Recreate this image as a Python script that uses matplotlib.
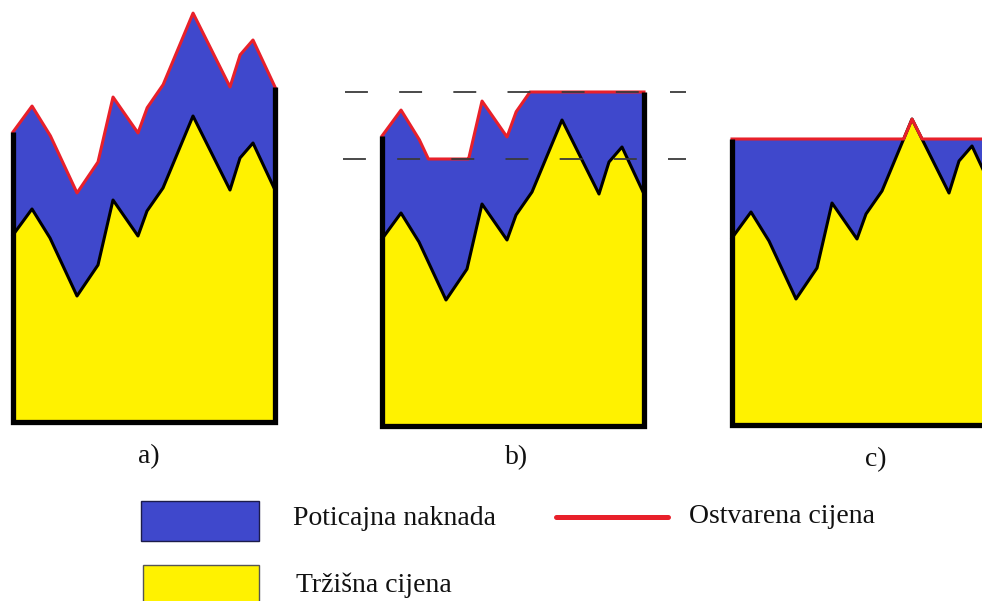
import matplotlib
matplotlib.use('Agg')
import matplotlib.pyplot as plt
import numpy as np
from matplotlib.patches import Rectangle
from matplotlib.lines import Line2D

plt.rcParams['lines.scale_dashes'] = False

# ---------------- data ----------------
time_pts = [0, 19, 37, 64, 85, 100, 125, 134, 150, 180, 217, 227, 240, 262]
market_price = [187, 213, 184, 126, 157, 222, 186, 211, 234, 306, 232, 264, 279, 232]
subsidy = 103          # premium added on top of market price (panel a, b)
cap_price = 334        # upper limit (panel b)
floor_price = 267      # lower limit (panel b)
fixed_price = 286      # guaranteed price (panel c)
panel_labels = ['a)', 'b)', 'c)']
legend_labels = ['Poticajna naknada', 'Tržišna cijena', 'Ostvarena cijena']

BLUE = '#3F48CC'
YELLOW = '#FFF200'
RED = '#E8202A'
FONT = 'Liberation Serif'

W, H = 982, 601
fig = plt.figure(figsize=(W / 100, H / 100), dpi=100)
fig.patch.set_facecolor('white')


def fx(px):
    return px / W


def fy(py):
    return 1 - py / H


def add_panel(left, baseline, width=262):
    ax = fig.add_axes([left / W, 1 - baseline / H, width / W, baseline / H])
    ax.set_xlim(0, width)
    ax.set_ylim(0, baseline)
    ax.axis('off')
    return ax


xs = np.linspace(time_pts[0], time_pts[-1], 3000)
m = np.interp(xs, time_pts, market_price)
xend = time_pts[-1]


def draw_panel(ax, top, right_border=True):
    ax.fill_between(xs, 0, m, color=YELLOW, lw=0, zorder=1)
    ax.fill_between(xs, m, np.maximum(top, m), color=BLUE, lw=0, zorder=1)
    ax.plot(time_pts, market_price, color='black', lw=2.2,
            solid_joinstyle='round', zorder=3, clip_on=False)
    ax.plot(xs, top, color=RED, lw=2.2, solid_joinstyle='round',
            zorder=4, clip_on=False)
    bx = [0, 0, xend, xend] if right_border else [0, 0, xend]
    by = [top[0], 0, 0, top[-1]] if right_border else [top[0], 0, 0]
    ax.plot(bx, by, color='black', lw=3.8, solid_joinstyle='miter',
            solid_capstyle='butt', zorder=6, clip_on=False)


# panel a
ax_a = add_panel(13, 422)
draw_panel(ax_a, m + subsidy)

# panel b
ax_b = add_panel(382, 426)
top_b = np.clip(m + subsidy, floor_price, cap_price)
draw_panel(ax_b, top_b)
for lvl, x0 in [(cap_price, -37), (floor_price, -39)]:
    ax_b.plot([x0, 304], [lvl, lvl], color='#3a3a3a', lw=1.3,
              linestyle=(0, (16.5, 22.5)), zorder=5, clip_on=False)

# panel c
ax_c = add_panel(732, 425)
top_c = np.maximum(m, fixed_price)
draw_panel(ax_c, top_c)

# panel labels
for lab, (px, py) in zip(panel_labels, [(138, 463), (505, 464), (865, 466)]):
    fig.text(fx(px), fy(py), lab, family=FONT, fontsize=20,
             ha='left', va='baseline', color='#111111')

# legend
fig.add_artist(Rectangle((fx(141), fy(541)), (259 - 141) / W, 40 / H,
                         transform=fig.transFigure, facecolor=BLUE,
                         edgecolor='#1c1c4a', lw=1.0))
fig.add_artist(Rectangle((fx(143), fy(608)), (259 - 143) / W, 43 / H,
                         transform=fig.transFigure, facecolor=YELLOW,
                         edgecolor='#555555', lw=1.0))
fig.add_artist(Line2D([fx(556), fx(668)], [fy(517), fy(517)],
                      transform=fig.transFigure, color=RED, lw=3.6,
                      solid_capstyle='round'))
fig.text(fx(293), fy(525), legend_labels[0], family=FONT, fontsize=20,
         ha='left', va='baseline', color='#111111')
fig.text(fx(296), fy(592), legend_labels[1], family=FONT, fontsize=20,
         ha='left', va='baseline', color='#111111')
fig.text(fx(689), fy(523), legend_labels[2], family=FONT, fontsize=20,
         ha='left', va='baseline', color='#111111')

fig.savefig('out.png', dpi=100, facecolor='white')
